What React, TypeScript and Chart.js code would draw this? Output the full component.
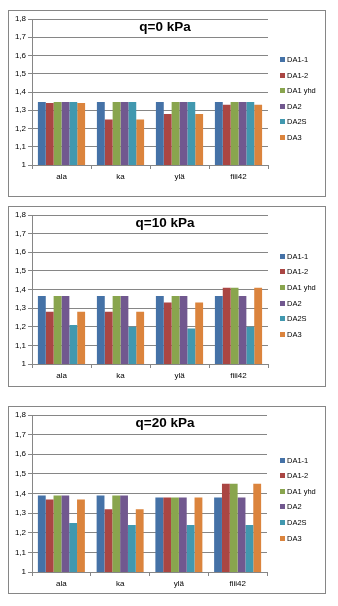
import React, { useEffect, useRef } from 'react';
import { Chart, registerables } from 'chart.js';

Chart.register(...registerables);

const categories = ['ala', 'ka', 'ylä', 'fiii42'];
const seriesNames = ['DA1-1', 'DA1-2', 'DA1 yhd', 'DA2', 'DA2S', 'DA3'];
const seriesColors = ['#4572A7', '#AA4643', '#89A54E', '#71588F', '#4198AF', '#DB843D'];
const yMin = 1;
const yMax = 1.8;
const yStep = 0.1;

// q = 0 kPa
const q0_DA1_1 = [1.345, 1.345, 1.345, 1.345];
const q0_DA1_2 = [1.34, 1.25, 1.28, 1.33];
const q0_DA1_yhd = [1.345, 1.345, 1.345, 1.345];
const q0_DA2 = [1.345, 1.345, 1.345, 1.345];
const q0_DA2S = [1.345, 1.345, 1.345, 1.345];
const q0_DA3 = [1.34, 1.25, 1.28, 1.33];

// q = 10 kPa
const q10_DA1_1 = [1.365, 1.365, 1.365, 1.365];
const q10_DA1_2 = [1.28, 1.28, 1.33, 1.41];
const q10_DA1_yhd = [1.365, 1.365, 1.365, 1.41];
const q10_DA2 = [1.365, 1.365, 1.365, 1.365];
const q10_DA2S = [1.21, 1.2, 1.19, 1.2];
const q10_DA3 = [1.28, 1.28, 1.33, 1.41];

// q = 20 kPa
const q20_DA1_1 = [1.39, 1.39, 1.38, 1.38];
const q20_DA1_2 = [1.37, 1.32, 1.38, 1.45];
const q20_DA1_yhd = [1.39, 1.39, 1.38, 1.45];
const q20_DA2 = [1.39, 1.39, 1.38, 1.38];
const q20_DA2S = [1.25, 1.24, 1.24, 1.24];
const q20_DA3 = [1.37, 1.32, 1.38, 1.45];

const panels = [
  {
    title: 'q=0 kPa',
    series: [q0_DA1_1, q0_DA1_2, q0_DA1_yhd, q0_DA2, q0_DA2S, q0_DA3],
    top: 2, height: 187, padRight: 57, xHeight: 31, legendTop: 48.5, legendStep: 15.5,
  },
  {
    title: 'q=10 kPa',
    series: [q10_DA1_1, q10_DA1_2, q10_DA1_yhd, q10_DA2, q10_DA2S, q10_DA3],
    top: 198, height: 181, padRight: 57, xHeight: 22, legendTop: 49, legendStep: 15.7,
  },
  {
    title: 'q=20 kPa',
    series: [q20_DA1_1, q20_DA1_2, q20_DA1_yhd, q20_DA2, q20_DA2S, q20_DA3],
    top: 398, height: 188, padRight: 58, xHeight: 21, legendTop: 53, legendStep: 15.6,
  },
];

const FONT = '"Liberation Sans", Arial, sans-serif';
const GRID = '#868686';
const CANVAS_W = 316;

function Panel({ p }: { p: any }) {
  const ref = useRef<HTMLCanvasElement | null>(null);
  const ch = p.height - 2;
  useEffect(() => {
    if (!ref.current) return;
    const overlay = {
      id: 'overlay',
      afterDraw(chart: any) {
        const ctx = chart.ctx;
        ctx.save();
        ctx.fillStyle = '#000';
        ctx.font = `bold 13.5px ${FONT}`;
        ctx.textAlign = 'center';
        ctx.textBaseline = 'middle';
        ctx.fillText(p.title, 156, 16.5);
        ctx.font = `7.5px ${FONT}`;
        ctx.textAlign = 'left';
        chart.data.datasets.forEach((ds: any, i: number) => {
          const y = p.legendTop + i * p.legendStep;
          ctx.fillStyle = ds.backgroundColor;
          ctx.fillRect(271, Math.round(y - 2.5), 5, 5);
          ctx.fillStyle = '#000';
          ctx.fillText(ds.label, 278, y + 0.5);
        });
        ctx.restore();
      },
    };
    const chart = new Chart(ref.current, {
      type: 'bar',
      data: {
        labels: categories,
        datasets: seriesNames.map((name, i) => ({
          label: name,
          data: p.series[i],
          backgroundColor: seriesColors[i],
          borderWidth: 0,
          categoryPercentage: 0.8,
          barPercentage: 1.0,
        })),
      },
      options: {
        responsive: false,
        animation: false,
        devicePixelRatio: 1,
        layout: { padding: { top: 8, left: 0, right: p.padRight, bottom: 0 } },
        plugins: {
          legend: { display: false },
          title: { display: false },
          tooltip: { enabled: false },
        },
        scales: {
          x: {
            grid: { display: true, drawOnChartArea: false, drawTicks: true, tickLength: 4, color: GRID, offset: true },
            border: { display: true, color: GRID },
            ticks: { color: '#000', font: { family: FONT, size: 8 }, padding: 3, maxRotation: 0 },
            afterFit: (scale: any) => { scale.height = p.xHeight; },
          },
          y: {
            min: yMin,
            max: yMax,
            grid: { color: GRID, tickLength: 4 },
            border: { display: true, color: GRID },
            ticks: {
              stepSize: yStep,
              color: '#000',
              font: { family: FONT, size: 8 },
              padding: 2,
              callback: (v: any) => {
                const n = Number(v);
                return Math.abs(n - 1) < 1e-9 ? '1' : n.toFixed(1).replace('.', ',');
              },
            },
            afterFit: (scale: any) => { scale.width = 23; },
          },
        },
      },
      plugins: [overlay],
    } as any);
    return () => chart.destroy();
  }, []);
  return (
    <div
      style={{
        position: 'absolute',
        left: 0,
        top: p.top,
        width: CANVAS_W,
        height: ch,
        border: `1px solid ${GRID}`,
        background: '#fff',
      }}
    >
      <canvas ref={ref} width={CANVAS_W} height={ch} style={{ display: 'block', width: CANVAS_W, height: ch }} />
    </div>
  );
}

export default function App() {
  return (
    <div style={{ position: 'relative', width: 318, height: 590 }}>
      {panels.map((p, i) => (
        <Panel key={i} p={p} />
      ))}
    </div>
  );
}
